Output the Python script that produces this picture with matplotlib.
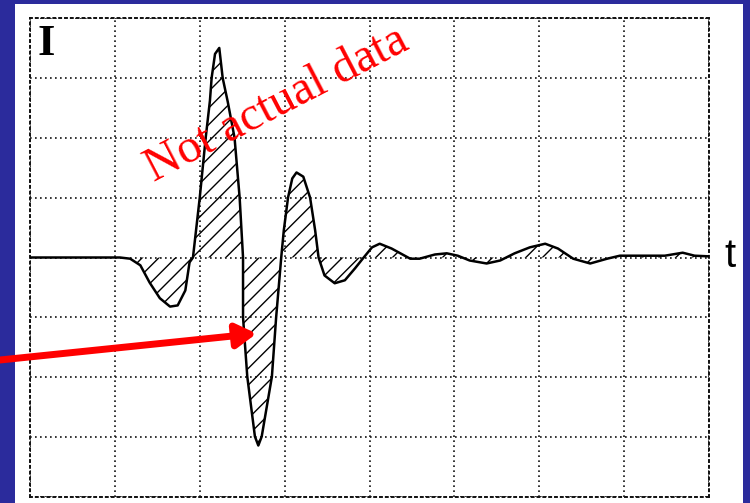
import matplotlib
matplotlib.use("Agg")
from matplotlib import pyplot as plt
from matplotlib.patches import Rectangle
import numpy as np

# waveform read in grid divisions (8 across, +-4 vertically)
t = [0.00, 1.06, 1.18, 1.30, 1.41, 1.53, 1.65, 1.74, 1.83, 1.88, 1.92,
     2.00, 2.07, 2.12, 2.14, 2.18, 2.23, 2.27, 2.33, 2.41, 2.47, 2.51,
     2.51, 2.56, 2.65, 2.69, 2.73, 2.85, 2.90, 2.96,
     2.99, 3.04, 3.09, 3.14, 3.22, 3.30, 3.36, 3.40,
     3.47, 3.59, 3.71, 3.83, 3.92, 4.03, 4.12, 4.26, 4.48, 4.59,
     4.77, 4.91, 5.04, 5.18, 5.38, 5.54, 5.71, 5.89, 6.07, 6.22,
     6.40, 6.60, 6.80, 6.95, 7.48, 7.69, 7.83, 7.99]
current = [0.00, 0.00, -0.02, -0.13, -0.42, -0.68, -0.82, -0.80, -0.55, -0.08, 0.00,
           1.00, 2.00, 2.62, 3.00, 3.40, 3.50, 3.00, 2.60, 2.00, 1.00, 0.00,
           -1.00, -1.99, -2.99, -3.14, -2.99, -1.99, -1.00, 0.00,
           0.45, 1.00, 1.32, 1.42, 1.35, 1.00, 0.45, 0.00,
           -0.30, -0.43, -0.38, -0.18, -0.02, 0.17, 0.23, 0.15, -0.02, -0.02,
           0.05, 0.07, 0.03, -0.05, -0.10, -0.05, 0.07, 0.17, 0.23, 0.15,
           -0.02, -0.10, -0.02, 0.03, 0.03, 0.08, 0.03, 0.02]

x_divs = np.arange(0, 9)
y_divs = np.arange(-4, 5)

W, H = 750, 503
fig = plt.figure(figsize=(W / 100, H / 100), dpi=100)
fig.patch.set_facecolor('#2b2b9c')

# white slide panel behind the plot
fig.add_artist(Rectangle((15 / W, 0), (743 - 15) / W, (503 - 4) / H,
                         transform=fig.transFigure, facecolor='white',
                         edgecolor='none', zorder=0))

ax = fig.add_axes([30 / W, 1 - 497 / H, (709 - 30) / W, (497 - 18) / H])
ax.set_facecolor('none')
ax.set_xlim(0, 8)
ax.set_ylim(-4, 4)

# dotted scope graticule
dots = (0, (1, 2.0))
ax.set_xticks(x_divs)
ax.set_yticks(y_divs)
ax.tick_params(length=0, labelbottom=False, labelleft=False)
ax.grid(True, color='#111111', linestyle=dots, linewidth=1.2)
for s in ax.spines.values():
    s.set_linestyle(dots)
    s.set_linewidth(1.4)
    s.set_color('#111111')

plt.rcParams['hatch.linewidth'] = 1.0
ax.fill_between(t, current, 0, facecolor='none', edgecolor='black',
                hatch='//', linewidth=0, zorder=2)
ax.plot(t, current, color='black', linewidth=1.8, zorder=3)

fig.text(46.5 / W, 1 - 44 / H, 'I', fontsize=32, fontweight='bold',
         family='Liberation Serif', ha='center', va='center')
fig.text(730 / W, 1 - 256 / H, 't', fontsize=29, family='Liberation Sans',
         ha='center', va='center')

fig.text(154 / W, 1 - 182 / H, 'Not actual data', color='red',
         fontsize=34.5, family='Liberation Serif', rotation=27.5,
         rotation_mode='anchor', ha='left', va='baseline', zorder=5)

ax.annotate('', xy=(2.67, -1.27), xytext=(0, 1 - 360 / H),
            textcoords='figure fraction', annotation_clip=False,
            arrowprops=dict(arrowstyle='-|>,head_length=0.6,head_width=0.36',
                            mutation_scale=20, color='red', lw=5,
                            shrinkA=0, shrinkB=0), zorder=6)

fig.savefig('out.png', dpi=100, facecolor=fig.get_facecolor())
